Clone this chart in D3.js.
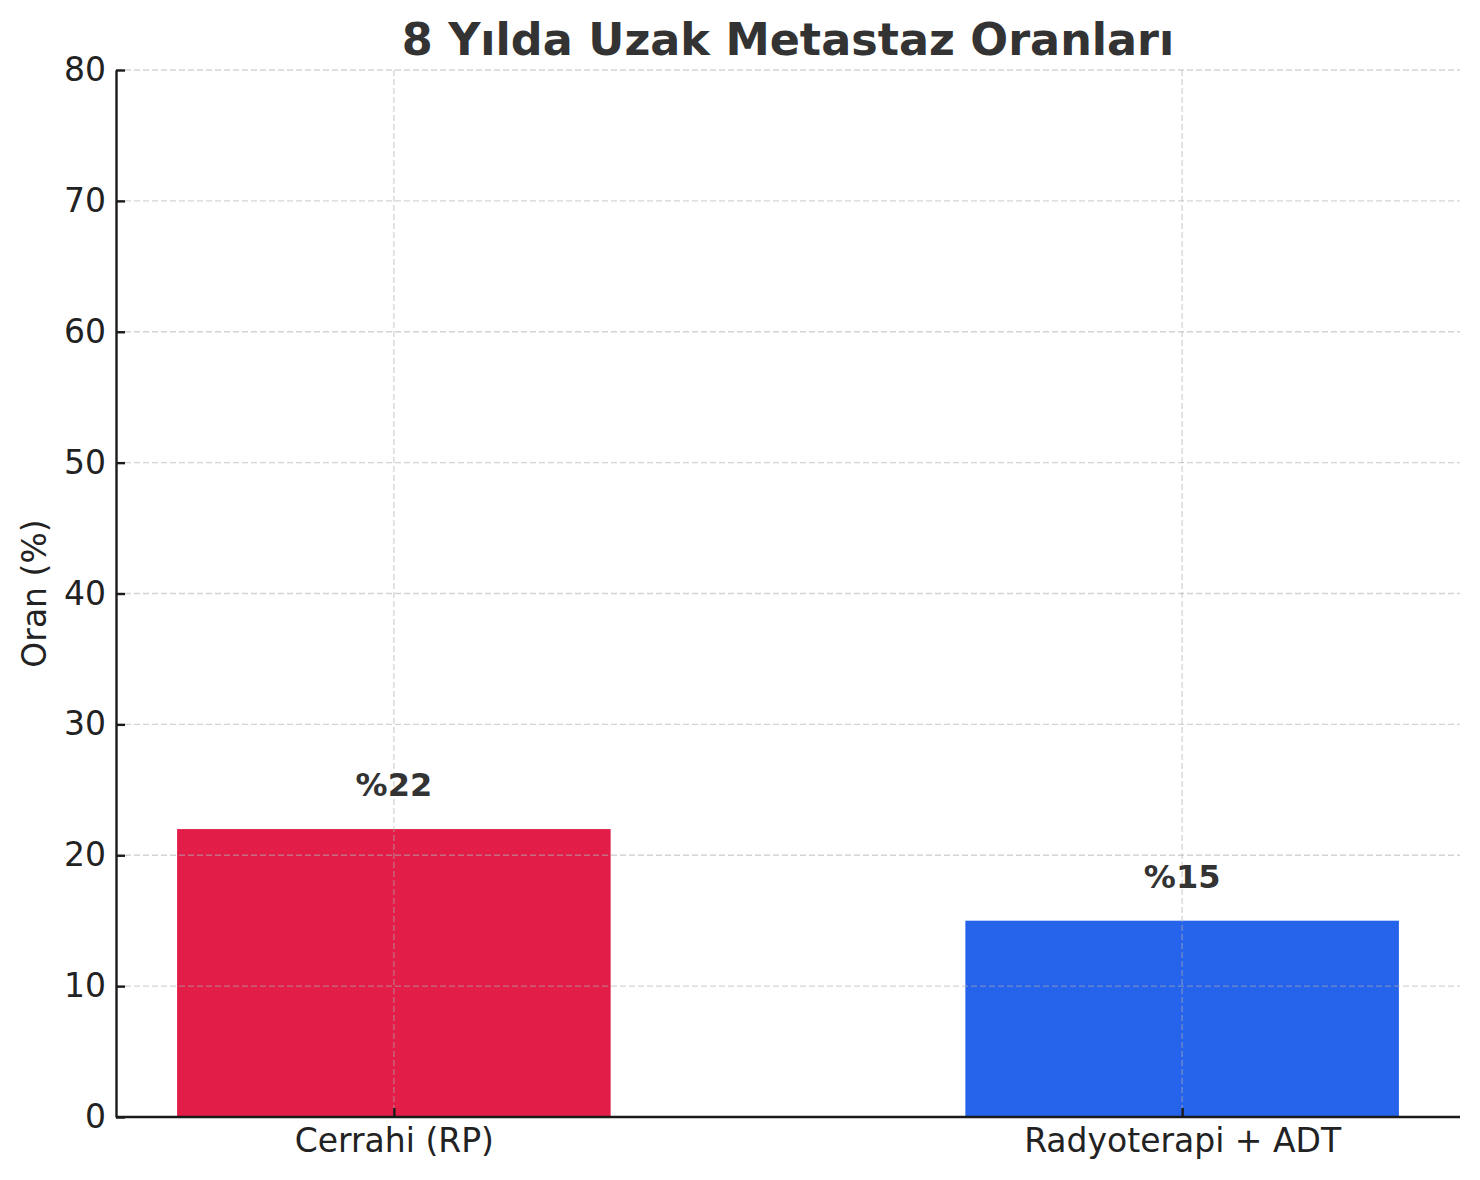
<!DOCTYPE html>
<html>
<head>
<meta charset="UTF-8">
<title>8 Yılda Uzak Metastaz Oranları</title>
<script src="https://cdn.jsdelivr.net/npm/d3@7"></script>
<style>
body { margin: 0; background: #fff; }
text { font-family: "DejaVu Sans", sans-serif; }
</style>
</head>
<body>
<svg id="chart" width="1480" height="1180"></svg>
<script>
// data
var categories = ["Cerrahi (RP)", "Radyoterapi + ADT"];
var rates = [22, 15];
var barColors = ["#e11d48", "#2563eb"];
var yTicks = [0, 10, 20, 30, 40, 50, 60, 70, 80];

var mLeft = 116, mRight = 1460, mTop = 70, mBottom = 1117;
var svg = d3.select("#chart");

// matplotlib-like x range: bar width 0.55 plus 5% margins
var barW = 0.55;
var x = d3.scaleLinear().domain([-0.3525, 1.3525]).range([mLeft, mRight]);
var y = d3.scaleLinear().domain([0, 80]).range([mBottom, mTop]);

// bars
svg.append("g").selectAll("rect").data(rates).enter().append("rect")
  .attr("x", function(d, i) { return x(i - barW / 2); })
  .attr("width", function(d, i) { return x(i + barW / 2) - x(i - barW / 2); })
  .attr("y", function(d) { return y(d); })
  .attr("height", function(d) { return y(0) - y(d); })
  .attr("fill", function(d, i) { return barColors[i]; });

// grid (drawn above bars like the original)
var grid = svg.append("g").attr("stroke", "#b0b0b0").attr("stroke-opacity", 0.55)
  .attr("stroke-width", 1.3).attr("stroke-dasharray", "6,3");
grid.selectAll("line.h").data(yTicks).enter().append("line")
  .attr("x1", mLeft).attr("x2", mRight)
  .attr("y1", function(d) { return y(d); }).attr("y2", function(d) { return y(d); });
grid.selectAll("line.v").data(categories).enter().append("line")
  .attr("y1", mTop).attr("y2", mBottom)
  .attr("x1", function(d, i) { return x(i); }).attr("x2", function(d, i) { return x(i); });

// axes, ticks pointing inward
var yAxis = d3.axisLeft(y).tickValues(yTicks).tickSizeInner(-9).tickSizeOuter(0).tickPadding(10);
var gy = svg.append("g").attr("transform", "translate(" + mLeft + ",0)").call(yAxis);
var xAxis = d3.axisBottom(x).tickValues([0, 1]).tickFormat(function(d) { return categories[d]; })
  .tickSizeInner(-9).tickSizeOuter(0).tickPadding(12);
var gx = svg.append("g").attr("transform", "translate(0," + mBottom + ")").call(xAxis);

[gx, gy].forEach(function(g) {
  g.select(".domain").attr("stroke", "#1a1a1a").attr("stroke-width", 2.4);
  g.selectAll(".tick line").attr("stroke", "#1a1a1a").attr("stroke-width", 2.4);
  g.selectAll(".tick text").attr("fill", "#222").style("font-size", "33px")
    .style("font-family", "DejaVu Sans");
});
gx.select(".domain").attr("d", "M" + mLeft + ",0H" + mRight);

// value labels
svg.append("g").selectAll("text").data(rates).enter().append("text")
  .attr("x", function(d, i) { return x(i); })
  .attr("y", function(d) { return y(d + 2) - 7; })
  .attr("text-anchor", "middle")
  .attr("fill", "#333")
  .style("font-size", "32px").style("font-weight", "bold")
  .text(function(d) { return "%" + d; });

// y label
svg.append("text")
  .attr("transform", "translate(46," + ((mTop + mBottom) / 2) + ") rotate(-90)")
  .attr("text-anchor", "middle")
  .attr("fill", "#222")
  .style("font-size", "33px")
  .text("Oran (%)");

// title
svg.append("text")
  .attr("x", (mLeft + mRight) / 2).attr("y", 55)
  .attr("text-anchor", "middle")
  .attr("fill", "#333")
  .style("font-size", "44.5px").style("font-weight", "bold")
  .text("8 Yılda Uzak Metastaz Oranları");
</script>
</body>
</html>
